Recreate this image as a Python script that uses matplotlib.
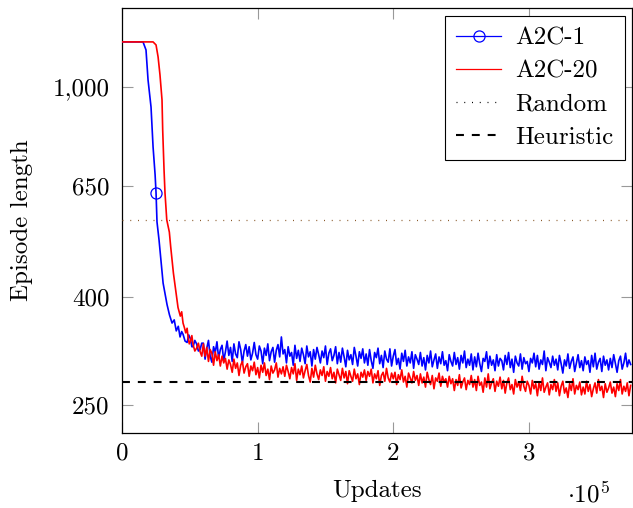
import numpy as np
import matplotlib
matplotlib.use("Agg")
import matplotlib.pyplot as plt
from matplotlib.lines import Line2D

plt.rcParams["font.family"] = ["cmr10", "DejaVu Serif"]
plt.rcParams["mathtext.fontset"] = "cm"
plt.rcParams["axes.unicode_minus"] = False
plt.rcParams["axes.formatter.use_mathtext"] = True

# ---------------- data ----------------
random_level = 560
heuristic_level = 276

blue_head_x = [0, 15500, 17700, 19200, 21400, 22900, 24400, 25100, 25800, 27300,
               28800, 30300, 33200, 35000, 36900, 38500, 40000, 41500, 42800, 44000,
               45000, 46500, 48000, 49200, 50500, 51500, 52400, 53700, 55000, 56300,
               57600, 58800]
blue_head_y = [1217, 1217, 1175, 1031, 916, 770, 682, 630, 555, 513,
               466, 425, 387, 370, 357, 362, 345, 352, 336, 344, 340, 330, 328, 339,
               333, 322, 322, 331, 326, 316, 318, 327]
blue_marker_index = 7

red_head_x = [0, 22900, 25100, 26600, 28000, 29500, 30000, 31000, 31700, 33000,
              34900, 35900, 37900, 39500, 41300, 43000, 44000, 45000, 46000, 47000,
              48000, 48700, 49600, 50500, 51500, 52400, 53700, 55000, 56300, 57600,
              58800]
red_head_y = [1217, 1217, 1201, 1140, 1054, 945, 829, 696, 630, 560,
              531, 498, 444, 413, 382, 368, 375, 357, 350, 342, 349, 336, 326, 330,
              338, 325, 316, 320, 327, 315, 309]

tail_start = 60000
tail_step = 1250

blue_tail_y = [
    327, 305, 320, 331, 309, 301, 322, 314, 329, 306, 318, 324, 303, 315, 330, 310,
    321, 302, 326, 312, 307, 329, 318, 300, 316, 325, 309, 322, 304, 313, 328, 311,
    305, 323, 316, 299, 320, 310, 326, 303, 315, 321, 301, 317, 325, 308, 336, 312,
    318, 300, 322, 309, 314, 297, 324, 306, 317, 302, 320, 311, 299, 323, 308, 315,
    296, 318, 305, 321, 311, 300, 316, 307, 323, 298, 313, 319, 303, 310, 322, 299,
    314, 301, 320, 308, 295, 317, 304, 311, 298, 321, 309, 296, 315, 306, 319, 300,
    312, 297, 318, 303, 293, 314, 307, 320, 299, 310, 294, 316, 305, 301, 319, 296,
    309, 318, 298, 306, 292, 313, 302, 317, 296, 308, 300, 315, 293, 311, 305, 298,
    314, 296, 307, 291, 310, 300, 316, 295, 304, 312, 293, 308, 299, 315, 297, 303,
    290, 311, 302, 296, 314, 298, 307, 292, 310, 300, 316, 294, 305, 297, 312, 291,
    308, 295, 313, 299, 289, 306, 302, 315, 293, 309, 297, 304, 290, 311, 296, 306,
    303, 291, 310, 298, 314, 294, 305, 288, 309, 300, 296, 312, 292, 307, 299, 302,
    289, 306, 300, 313, 295, 310, 292, 304, 298, 316, 290, 307, 301, 294, 309, 297,
    305, 291, 310, 299, 287, 304, 296, 312, 293, 302, 308, 289, 300, 311, 294, 303,
    290, 308, 298, 303, 288, 310, 295, 313, 292, 301, 306, 289, 309, 297, 304, 291,
    306, 294, 311, 299, 288, 303, 309, 292, 300, 313, 295, 304, 298]

red_tail_y = [
    326, 309, 321, 302, 318, 313, 297, 315, 303, 311, 296, 309, 300, 306, 292, 304,
    298, 288, 305, 293, 300, 284, 297, 302, 287, 295, 299, 283, 296, 290, 301, 285,
    294, 281, 297, 288, 300, 284, 292, 279, 296, 287, 291, 300, 282, 293, 286, 295,
    283, 297, 289, 280, 294, 286, 299, 278, 292, 285, 296, 281, 290, 298, 284, 276,
    293, 282, 297, 286, 279, 291, 284, 295, 277, 289, 283, 294, 280, 288, 275, 292,
    285, 278, 293, 281, 289, 274, 290, 283, 277, 292, 280, 286, 273, 288, 282, 291,
    278, 289, 283, 292, 275, 286, 280, 290, 272, 284, 288, 277, 293, 281, 276, 287,
    280, 288, 273, 285, 279, 291, 276, 283, 270, 287, 281, 275, 289, 278, 284, 272,
    286, 275, 282, 270, 288, 279, 273, 284, 268, 281, 277, 287, 271, 283, 276, 280,
    270, 283, 274, 280, 266, 279, 272, 285, 269, 276, 281, 267, 278, 273, 284, 270,
    279, 266, 283, 272, 276, 264, 281, 270, 286, 268, 275, 280, 265, 277, 271, 282,
    268, 278, 263, 275, 281, 267, 273, 262, 279, 270, 276, 266, 283, 271, 265, 277,
    272, 262, 278, 268, 274, 260, 276, 266, 281, 264, 270, 275, 261, 273, 267, 279,
    265, 275, 260, 271, 277, 263, 269, 258, 274, 266, 280, 262, 272, 267, 276, 261,
    270, 262, 277, 265, 273, 259, 268, 275, 263, 279, 266, 271, 258, 274, 264, 269,
    276, 263, 270, 259, 274, 266, 279, 262, 271, 265, 275, 260, 272]

x_ticks = [0, 100000, 200000, 300000]
x_tick_labels = ["0", "1", "2", "3"]
y_ticks = [250, 400, 650, 1000]
y_tick_labels = ["250", "400", "650", "1,000"]

# ---------------- assemble ----------------
blue_x = list(blue_head_x) + [tail_start + tail_step * i for i in range(len(blue_tail_y))]
blue_y = list(blue_head_y) + list(blue_tail_y)
red_x = list(red_head_x) + [tail_start + tail_step * i for i in range(len(red_tail_y))]
red_y = list(red_head_y) + list(red_tail_y)

fig = plt.figure(figsize=(6.33, 5.08), dpi=100)
ax = fig.add_axes([122 / 633, 1 - 433 / 508, 510 / 633, 425 / 508])

ax.plot(blue_x, blue_y, color="blue", lw=1.2, marker="o", markevery=[blue_marker_index],
        markersize=8, markerfacecolor="none", markeredgecolor="blue", markeredgewidth=0.9,
        zorder=3)
ax.plot(red_x, red_y, color="red", lw=1.2, zorder=4)
ax.axhline(random_level, color="#8b5a2b", lw=0.9, linestyle=(0, (0.8, 5.4)), zorder=5)
ax.axhline(heuristic_level, color="black", lw=1.5, linestyle=(0, (3.8, 3.8)), zorder=6)

ax.set_yscale("log")
ax.set_xlim(0, 376000)
ax.set_ylim(221, 1411)
ax.set_yticks(y_ticks)
ax.set_yticklabels(y_tick_labels)
ax.yaxis.set_minor_locator(matplotlib.ticker.NullLocator())
ax.set_xticks(x_ticks)
ax.set_xticklabels(x_tick_labels)
ax.xaxis.set_minor_locator(matplotlib.ticker.NullLocator())

ax.tick_params(axis="both", which="major", direction="in", length=8, width=0.8,
               color="0.6", top=True, right=True, labelsize=18)
ax.tick_params(axis="y", pad=9)
ax.tick_params(axis="x", pad=7)
for sp in ax.spines.values():
    sp.set_linewidth(0.9)
    sp.set_color("black")

ax.set_xlabel("Updates", fontsize=18, labelpad=11)
ax.set_ylabel("Episode length", fontsize=18, labelpad=14)
ax.text(0.957, -0.115, r"$\cdot 10^5$", transform=ax.transAxes, ha="right", va="top",
        fontsize=18)

handles = [
    Line2D([], [], color="blue", lw=0.9, marker="o", markersize=8,
           markerfacecolor="none", markeredgecolor="blue", markeredgewidth=0.9),
    Line2D([], [], color="red", lw=0.9),
    Line2D([], [], color="black", lw=0.9, linestyle=(0, (0.8, 5.4))),
    Line2D([], [], color="black", lw=1.5, linestyle=(0, (3.8, 3.8))),
]
labels = ["A2C-1", "A2C-20", "Random", "Heuristic"]
leg = ax.legend(handles, labels, loc="upper right", fontsize=18, frameon=True,
                fancybox=False, framealpha=1, edgecolor="black", borderaxespad=0.3,
                handlelength=1.8, handletextpad=0.55, labelspacing=0.43, borderpad=0.45)
leg.get_frame().set_linewidth(0.8)

fig.savefig("out.png", dpi=100)
